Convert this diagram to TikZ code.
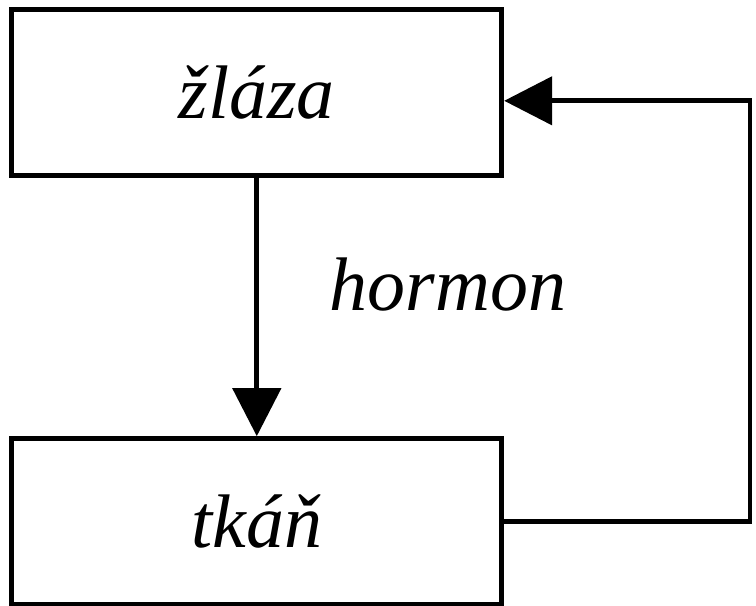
\documentclass[tikz,border=0pt]{standalone}
\usepackage{fontspec}
\setmainfont{Liberation Serif}
\usetikzlibrary{positioning,arrows.meta}

\begin{document}
\begin{tikzpicture}[node distance={6.45cm}, line width=3.4pt,
    organ/.style = {draw, rectangle, minimum width=12.25cm, minimum height=4.15cm,
        font=\fontsize{54}{60}\selectfont\itshape},
    tip/.style = {-{Triangle[length=1.2cm, width=1.2cm]}}]
    \useasboundingbox (0,0) rectangle (18.9,-15.15);
    \node[organ] (zlaza) at (6.42,-2.32) {žláza};
    \node[organ] (tkan) [below=of zlaza] {tkáň};
    \coordinate (back) at (18.75,0);
    \node[font=\fontsize{54}{60}\selectfont\itshape] (hormon) at (11.2,-7.12) {hormon};

    \draw[tip] (zlaza) -- (tkan);
    \draw[tip] (tkan.east) -- (tkan.east -| back) -- ([yshift=-0.2cm]zlaza.east -| back) -- ([yshift=-0.2cm]zlaza.east);
\end{tikzpicture}
\end{document}
